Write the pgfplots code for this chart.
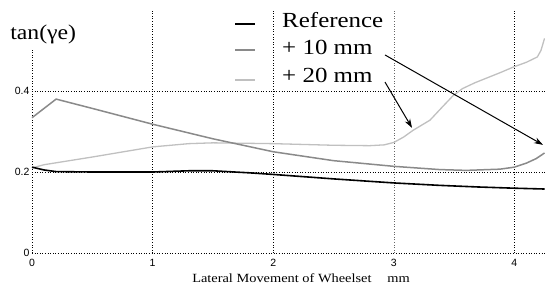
\documentclass[border=0pt]{standalone}
\usepackage{pgfplots}
\pgfplotsset{compat=1.18}
\usepackage{fontspec}
\setmainfont{Liberation Serif}
\setsansfont{Liberation Sans}
\usetikzlibrary{arrows.meta}
\definecolor{tengray}{HTML}{8A8A8A}
\definecolor{twentygray}{HTML}{C0C0C0}
\begin{document}
\begin{tikzpicture}
\begin{axis}[
  scale only axis, width=513pt, height=243pt,
  xmin=0, xmax=4.2537, ymin=0, ymax=0.6,
  axis line style={draw=none},
  xtick={0,1,2,3,4}, ytick={0,0.2,0.4},
  major tick style={draw=none},
  ticklabel style={font=\sffamily\fontsize{10.5}{12}\selectfont},
  /pgf/number format/assume math mode=true,
  xticklabel style={yshift=-3pt},
  yticklabel style={xshift=1pt},
  clip=false,
]
% grid
\draw[dotted, line width=0.6pt] (axis cs:0,0) -- (axis cs:4.2537,0);
\draw[dotted, line width=0.6pt] (axis cs:0,0.2) -- (axis cs:4.2537,0.2);
\draw[dotted, line width=0.6pt] (axis cs:0,0.4) -- (axis cs:4.2537,0.4);
\draw[dotted, line width=0.6pt] (axis cs:0,0) -- (axis cs:0,0.505);
\draw[dotted, line width=0.6pt] (axis cs:1,0) -- (axis cs:1,0.6);
\draw[dotted, line width=0.6pt] (axis cs:2,0) -- (axis cs:2,0.6);
\draw[dotted, line width=0.6pt, black!60] (axis cs:3,0) -- (axis cs:3,0.6);
\draw[dotted, line width=0.6pt] (axis cs:4,0) -- (axis cs:4,0.6);

% +20 mm
\addplot[twentygray, line width=1.3pt] coordinates {
(0,0.21) (0.1,0.218) (0.5,0.237) (1,0.262) (1.3,0.27) (1.5,0.272) (2,0.27)
(2.5,0.266) (2.8,0.265) (2.92,0.267) (3,0.273) (3.08,0.286) (3.16,0.303) (3.3,0.328)
(3.41,0.363) (3.49,0.388) (3.57,0.406) (3.67,0.42) (3.77,0.432) (3.88,0.445) (3.99,0.459)
(4.1,0.471) (4.19,0.484) (4.22,0.5) (4.25,0.53)};
% +10 mm
\addplot[tengray, line width=1.5pt] coordinates {
(0,0.334) (0.2,0.38) (0.5,0.357) (1,0.318) (1.5,0.282) (2,0.25) (2.5,0.228)
(3,0.214) (3.38,0.206) (3.6,0.204) (3.88,0.207) (4,0.212) (4.1,0.222)
(4.18,0.233) (4.25,0.247)};
% Reference
\addplot[black, line width=1.6pt] coordinates {
(0,0.212) (0.1,0.205) (0.2,0.201) (0.5,0.2) (1,0.2) (1.3,0.203) (1.5,0.203)
(1.8,0.198) (2,0.194) (2.5,0.183) (3,0.173) (3.38,0.167) (3.7,0.163) (4,0.16) (4.25,0.158)};

% legend
\draw[black, line width=1.6pt] (axis cs:1.685,0.5654) -- (axis cs:1.851,0.5654);
\draw[tengray, line width=1.5pt] (axis cs:1.685,0.5012) -- (axis cs:1.851,0.5012);
\draw[twentygray, line width=1.3pt] (axis cs:1.685,0.4272) -- (axis cs:1.851,0.4272);
\node[anchor=base west, inner sep=0pt, xscale=1.16, font=\fontsize{21.5}{24}\selectfont] at (axis cs:2.073,0.5556) {Reference};
\node[anchor=base west, inner sep=0pt, xscale=1.16, font=\fontsize{21.5}{24}\selectfont] at (axis cs:2.073,0.4889) {+ 10 mm};
\node[anchor=base west, inner sep=0pt, xscale=1.16, font=\fontsize{21.5}{24}\selectfont] at (axis cs:2.073,0.4198) {+ 20 mm};

% arrows
\draw[-{Stealth[length=9pt,width=6pt]}, line width=1pt] (axis cs:2.927,0.489) -- (axis cs:4.237,0.267);
\draw[-{Stealth[length=9pt,width=6pt]}, line width=1pt] (axis cs:2.927,0.422) -- (axis cs:3.151,0.309);

% y label
\node[anchor=base west, inner sep=0pt, xscale=1.13, font=\fontsize{21}{24}\selectfont] at (axis cs:-0.182,0.526) {tan(γe)};
% x label
\node[anchor=base west, inner sep=0pt, xscale=1.15, font=\fontsize{12.5}{14}\selectfont] at (axis cs:1.327,-0.074) {Lateral Movement of Wheelset\hspace{1.1em}mm};

\coordinate (bl) at (axis cs:-0.2653,-0.0815);
\coordinate (tr) at (axis cs:4.2537,0.6247);
\end{axis}
\pgfresetboundingbox
\path (bl) rectangle (tr);
\end{tikzpicture}
\end{document}
